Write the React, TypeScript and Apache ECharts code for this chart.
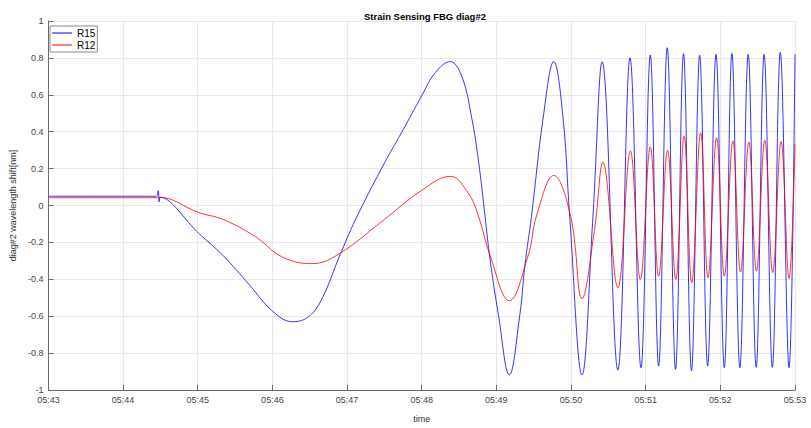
import React, { useEffect, useRef } from "react";
import * as echarts from "echarts";

// Time in seconds after 05:43:00, values in nm
const xTickLabels = ["05:43", "05:44", "05:45", "05:46", "05:47", "05:48", "05:49", "05:50", "05:51", "05:52", "05:53"];

const r15Time = [0, 86.6, 88.2, 89, 89.8, 121.6, 140.2, 161.6, 180.2, 196.2, 209.6, 220.2, 233.6, 246.9, 268.2, 284.2, 300.2, 310.9, 322.9, 332.2, 340.2, 345.6, 350.9, 354.9, 361.6, 370.4, 378.9, 382.9, 388.2, 397.6, 406.1, 413.6, 418.9, 428.8, 437.6, 445, 457.6, 467.4, 476.2, 483.7, 490.4, 497.3, 504, 510.4, 516.8, 523.4, 529.8, 536.5, 543.2, 549.3, 555.7, 562.4, 568.8, 575.2, 581.8, 588.2, 595.2, 600];
const r15Values = [0.05, 0.05, 0.08, 0.02, 0.045, -0.156, -0.27, -0.431, -0.573, -0.63, -0.6, -0.5, -0.28, -0.075, 0.207, 0.4, 0.597, 0.72, 0.78, 0.7, 0.474, 0.243, -0.058, -0.29, -0.59, -0.918, -0.59, -0.325, -0.06, 0.474, 0.78, 0.474, -0.058, -0.918, -0.06, 0.78, -0.892, 0.8, -0.879, 0.815, -0.87, 0.855, -0.888, 0.823, -0.895, 0.814, -0.87, 0.819, -0.879, 0.824, -0.879, 0.819, -0.877, 0.819, -0.877, 0.83, -0.879, 0.82];

const r12Time = [0, 86.6, 88.2, 121.6, 140.2, 166.6, 188.2, 212.2, 233.6, 268.2, 300.2, 322.9, 337.6, 345.6, 354.9, 370.4, 385.6, 392.2, 406.1, 419.7, 428.8, 438.9, 445.6, 457.6, 467.7, 475.7, 483.7, 490.4, 497.6, 504.2, 510.9, 517, 524.2, 530.1, 537, 543.2, 550.1, 556.2, 562.9, 569, 575.7, 582.1, 588.8, 595.2, 600];
const r12Values = [0.042, 0.042, 0.045, -0.04, -0.075, -0.17, -0.28, -0.315, -0.262, -0.085, 0.083, 0.158, 0.065, -0.058, -0.27, -0.516, -0.27, -0.058, 0.163, -0.058, -0.505, -0.13, 0.234, -0.446, 0.296, -0.4, 0.318, -0.383, 0.3, -0.4, 0.376, -0.418, 0.394, -0.392, 0.367, -0.383, 0.35, -0.36, 0.344, -0.356, 0.353, -0.363, 0.346, -0.395, 0.335];

const FONT = "Liberation Sans, Arial, sans-serif";
const AXIS = "#6a6a6a";
const GRID = "#e8e8e8";

export default function App() {
  const ref = useRef<HTMLDivElement>(null);
  useEffect(() => {
    document.body.style.margin = "0";
    if (!ref.current) return;
    const chart = echarts.init(ref.current, null, { renderer: "svg" });
    const zip = (t: number[], v: number[]) => t.map((x, i) => [x, v[i]]);
    chart.setOption({
      animation: false,
      backgroundColor: "#ffffff",
      textStyle: { fontFamily: FONT },
      title: {
        text: "Strain Sensing FBG diag#2",
        left: 420,
        top: 6,
        textAlign: "center",
        textStyle: { fontSize: 9.5, fontWeight: "bold", color: "#000", fontFamily: FONT },
      },
      legend: {
        orient: "vertical",
        left: 50,
        top: 26,
        itemWidth: 20,
        itemHeight: 1,
        itemGap: 0,
        icon: "rect",
        padding: [1, 2, 1, 2],
        borderColor: "#8a8a8a",
        borderWidth: 1,
        backgroundColor: "#fff",
        textStyle: { fontSize: 10, lineHeight: 12, color: "#000", fontFamily: FONT },
        data: ["R15", "R12"],
      },
      grid: { left: 45, right: 16, top: 21, bottom: 31, containLabel: false },
      xAxis: {
        type: "value",
        min: 0,
        max: 600,
        interval: 60,
        name: "time",
        nameLocation: "middle",
        nameGap: 24,
        nameTextStyle: { fontSize: 9, color: "#333" },
        axisLine: { show: true, onZero: false, lineStyle: { color: AXIS, width: 1 } },
        axisTick: { show: true, inside: true, length: 5, lineStyle: { color: AXIS } },
        axisLabel: {
          fontSize: 9,
          color: "#444",
          margin: 5,
          formatter: (v: number) => xTickLabels[Math.round(v / 60)] ?? "",
        },
        splitLine: { show: true, lineStyle: { color: GRID, width: 1 } },
      },
      yAxis: {
        type: "value",
        min: -1,
        max: 1,
        interval: 0.2,
        name: "diag#2 wavelength shift[nm]",
        nameLocation: "middle",
        nameGap: 23,
        nameTextStyle: { fontSize: 9, color: "#333" },
        axisLine: { show: true, onZero: false, lineStyle: { color: AXIS, width: 1 } },
        axisTick: { show: true, inside: true, length: 5, lineStyle: { color: AXIS } },
        axisLabel: {
          fontSize: 9,
          color: "#444",
          margin: 5,
          formatter: (v: number) => String(Math.round(v * 10) / 10),
        },
        splitLine: { show: true, lineStyle: { color: GRID, width: 1 } },
      },
      series: [
        {
          name: "R15",
          type: "line",
          data: zip(r15Time, r15Values),
          showSymbol: false,
          symbol: "none",
          smooth: 0.4,
          lineStyle: { color: "#0000ff", width: 0.8 },
          itemStyle: { color: "#0000ff" },
        },
        {
          name: "R12",
          type: "line",
          data: zip(r12Time, r12Values),
          showSymbol: false,
          symbol: "none",
          smooth: 0.4,
          lineStyle: { color: "#ff0000", width: 0.8 },
          itemStyle: { color: "#ff0000" },
        },
      ],
    });
    return () => chart.dispose();
  }, []);
  return <div ref={ref} style={{ width: 811, height: 428 }} />;
}
